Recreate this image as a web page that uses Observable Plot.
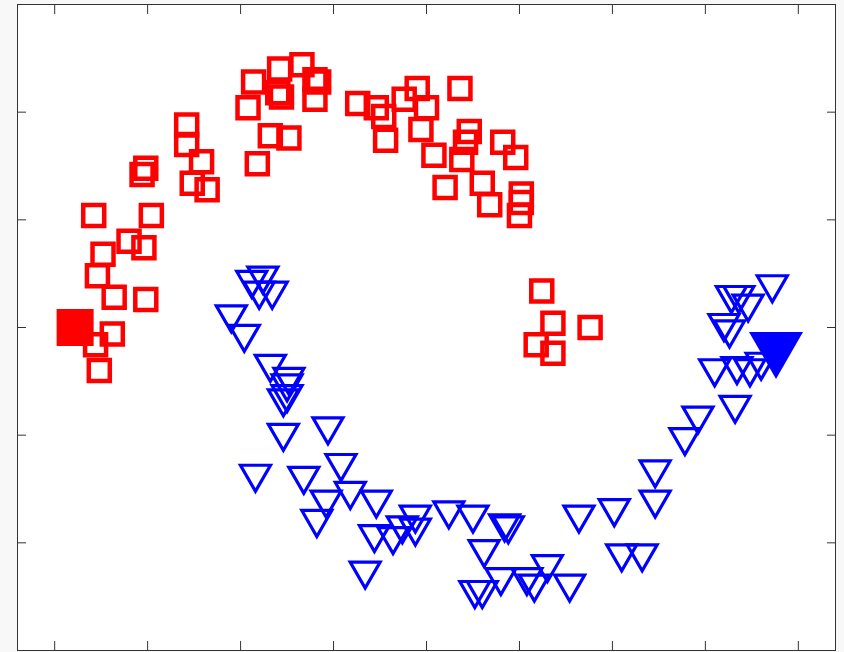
<!DOCTYPE html>
<html>
<head>
<meta charset="utf-8">
<script src="https://cdn.jsdelivr.net/npm/d3@7"></script>
<script src="https://cdn.jsdelivr.net/npm/@observablehq/plot@0.6"></script>
<style>
  html, body { margin: 0; padding: 0; background: #f8f8f8; }
  #chart { width: 844px; height: 652px; }
  svg { display: block; }
</style>
</head>
<body>
<div id="chart"></div>
<script>
// Class A (upper moon, squares)
const classAx = [0.07, 0.21, 0.33, 0.40, 0.42, 0.20, 0.22, 0.40, 0.04, 0.16, 0.26, 0.09,
  0.63, 0.73, 0.77, 0.78, 0.88, 0.95, 1.00, 0.97, 1.04, 1.18, 1.23, 1.21, 1.19, 1.10,
  1.30, 1.34, 1.41, 1.48, 1.51, 1.51, 1.50, -0.29, -0.29, -0.21, -0.26, -0.18, -0.53,
  -0.51, -0.79, -0.48, -0.60, -0.52, -0.74, -0.77, -0.68, -0.51, -0.69, -0.78, -0.76,
  1.62, 1.68, 1.88, 1.59, 1.68];
const classAy = [1.14, 1.20, 1.22, 1.15, 1.14, 1.09, 1.07, 1.06, 1.02, 0.89, 0.88, 0.76,
  1.04, 1.02, 0.98, 0.87, 1.06, 1.11, 1.02, 0.92, 0.80, 1.11, 0.91, 0.86, 0.78, 0.65,
  0.67, 0.57, 0.86, 0.79, 0.62, 0.58, 0.52, 0.94, 0.85, 0.77, 0.67, 0.64, 0.71,
  0.74, 0.52, 0.52, 0.40, 0.37, 0.34, 0.24, 0.14, 0.13, -0.03, -0.08, -0.20,
  0.17, 0.02, 0.00, -0.08, -0.12];

// Class B (lower moon, downward triangles)
const classBx = [0.12, 0.06, 0.10, 0.17, -0.05, 0.02, 0.16, 0.26, 0.25, 0.23, 0.25, 0.23,
  0.47, 0.08, 0.34, 0.54, 0.46, 0.41, 0.59, 0.73, 0.72, 0.94, 0.87, 0.94, 0.82, 1.12,
  1.25, 1.42, 1.44, 1.31, 1.65, 1.40, 1.54, 1.58, 1.26, 1.30, 1.77, 0.67, 1.82, 2.01,
  2.05, 2.16, 2.23, 2.23, 2.39, 2.46, 2.66, 2.55, 2.67, 2.74, 2.80, 2.60, 2.63, 2.64,
  2.68, 2.73, 2.86];
const classBy = [0.22, 0.20, 0.15, 0.15, 0.04, -0.05, -0.19, -0.25, -0.28, -0.35, -0.33, -0.51,
  -0.48, -0.70, -0.71, -0.65, -0.82, -0.91, -0.78, -0.82, -0.98, -0.89, -0.94, -0.95, -0.99, -0.87,
  -0.89, -0.93, -0.94, -1.05, -1.12, -1.18, -1.18, -1.21, -1.24, -1.24, -1.21, -1.15, -0.89, -0.86,
  -1.07, -1.07, -0.68, -0.82, -0.53, -0.43, -0.38, -0.21, -0.20, -0.21, -0.18, 0.00, -0.03, 0.13,
  0.13, 0.09, 0.18];

// Highlighted (filled) point of each class
const labeledAx = [-0.89];
const labeledAy = [0.00];
const labeledBx = [2.88];
const labeledBy = [-0.13];

// Unlabelled tick positions
const xTicks = [-1, -0.5, 0, 0.5, 1, 1.5, 2, 2.5, 3];
const yTicks = [-1, -0.5, 0, 0.5, 1];

const toRows = (xs, ys) => xs.map((x, i) => ({x, y: ys[i]}));
const classA = toRows(classAx, classAy);
const classB = toRows(classBx, classBy);
const labeledA = toRows(labeledAx, labeledAy);
const labeledB = toRows(labeledBx, labeledBy);

// Marker shapes: r = half-width of the shape
const squareSymbol = {
  draw(ctx, size) {
    const r = Math.sqrt(size / Math.PI);
    ctx.moveTo(-r, -r); ctx.lineTo(r, -r); ctx.lineTo(r, r); ctx.lineTo(-r, r); ctx.closePath();
  }
};
const triangleDownSymbol = {
  draw(ctx, size) {
    const r = Math.sqrt(size / Math.PI);
    const h = r * 0.866;
    ctx.moveTo(-r, -h); ctx.lineTo(r, -h); ctx.lineTo(0, h); ctx.closePath();
  }
};

const RED = "#ff0000";
const BLUE = "#0000ff";
const AXIS = "#333333";
const noText = () => "";

const chart = Plot.plot({
  width: 844,
  height: 652,
  marginLeft: 17,
  marginRight: 9,
  marginTop: 4,
  marginBottom: 2,
  style: {background: "transparent", overflow: "visible"},
  x: {domain: [-1.2, 3.2], axis: null},
  y: {domain: [-1.5, 1.5], axis: null},
  marks: [
    Plot.frame({fill: "white", stroke: "none"}),
    Plot.dot(classA, {x: "x", y: "y", symbol: squareSymbol, r: 10.5, fill: "none", stroke: RED, strokeWidth: 4.5}),
    Plot.dot(classB, {x: "x", y: "y", symbol: triangleDownSymbol, r: 15, fill: "none", stroke: BLUE, strokeWidth: 3.2}),
    Plot.dot(labeledA, {x: "x", y: "y", symbol: squareSymbol, r: 18.5, fill: RED, stroke: "none"}),
    Plot.dot(labeledB, {x: "x", y: "y", symbol: triangleDownSymbol, r: 27, fill: BLUE, stroke: "none"}),
    Plot.axisX(xTicks, {anchor: "bottom", tickSize: -9, tickFormat: noText, label: null, stroke: AXIS}),
    Plot.axisX(xTicks, {anchor: "top", tickSize: -9, tickFormat: noText, label: null, stroke: AXIS}),
    Plot.axisY(yTicks, {anchor: "left", tickSize: -9, tickFormat: noText, label: null, stroke: AXIS}),
    Plot.axisY(yTicks, {anchor: "right", tickSize: -9, tickFormat: noText, label: null, stroke: AXIS}),
    Plot.frame({stroke: AXIS, strokeWidth: 1})
  ]
});

document.getElementById("chart").appendChild(chart);
</script>
</body>
</html>
